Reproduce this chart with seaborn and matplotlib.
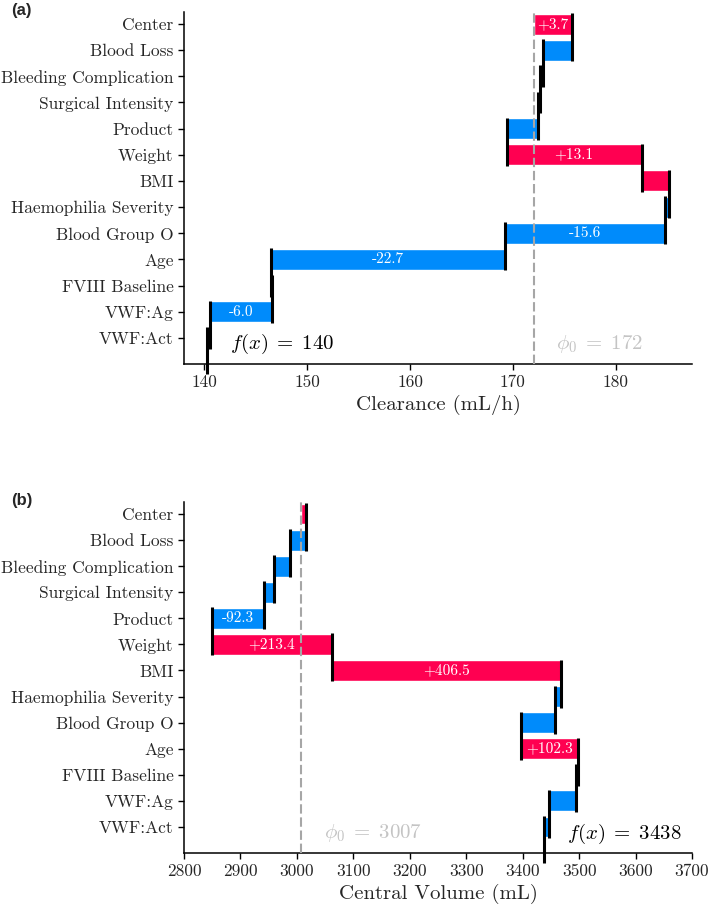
import numpy as np
import seaborn as sns
import matplotlib.pyplot as plt

# Feature contributions (top to bottom)
features = ["Center", "Blood Loss", "Bleeding Complication", "Surgical Intensity",
            "Product", "Weight", "BMI", "Haemophilia Severity", "Blood Group O",
            "Age", "FVIII Baseline", "VWF:Ag", "VWF:Act"]

cl_base = 172.0
cl_shap = [3.7, -2.8, -0.3, -0.2, -3.0, 13.1, 2.7, -0.4, -15.6, -22.7, 0.1, -6.0, -0.3]
cl_ticks = [140, 150, 160, 170, 180]

vc_base = 3007.3
vc_shap = [8.3, -27.2, -29.5, -17.7, -92.3, 213.4, 406.5, -11.5, -60.8, 102.3, -4.3, -47.8, -8.9]
vc_ticks = [2800, 2900, 3000, 3100, 3200, 3300, 3400, 3500, 3600, 3700]

RED = "#FF0051"
BLUE = "#008BFB"

sns.set_style("ticks")
plt.rcParams["font.family"] = ["cmr10", "DejaVu Serif"]
plt.rcParams["mathtext.fontset"] = "cm"
plt.rcParams["axes.formatter.use_mathtext"] = True
plt.rcParams["axes.unicode_minus"] = False


def waterfall(ax, base, shap, xlim, xticks, xlabel):
    shap = np.array(shap)
    ends = base + np.cumsum(shap)
    starts = ends - shap
    rows = np.arange(len(shap))
    colors = [RED if v > 0 else BLUE for v in shap]
    span = xlim[1] - xlim[0]

    ax.barh(rows, shap, left=starts, height=0.8, color=colors, zorder=2)
    ax.axvline(base, color="#a6a6a6", lw=1.5, ls=(0, (4.5, 1.8)), zorder=3)

    # connector lines at each running total
    for i, x in enumerate(ends):
        y1 = i + 1.42 if i < len(shap) - 1 else 13.4
        ax.plot([x, x], [i - 0.42, y1], color="black", lw=2.2,
                solid_capstyle="butt", zorder=4, clip_on=False)

    for i, v in enumerate(shap):
        if abs(v) > 0.07 * span:
            ax.text(starts[i] + v / 2, i, f"{v:+.1f}", color="white",
                    ha="center", va="center", fontsize=11, zorder=5)

    fx = ends[-1]
    ax.text(fx + 0.045 * span, 12.25, rf"$f(x)\;=\;{fx:.0f}$", fontsize=15,
            ha="left", va="center", color="black")
    ax.text(base + 0.045 * span, 12.25, rf"$\phi_0\;=\;{base:.0f}$", fontsize=15,
            ha="left", va="center", color="#c4c4c4")

    ax.set_xlim(*xlim)
    ax.set_ylim(13, -0.46)
    ax.set_yticks(rows)
    ax.set_yticklabels(features, fontsize=12.5)
    ax.set_xticks(xticks)
    ax.set_xticklabels([str(t) for t in xticks], fontsize=12.5)
    ax.set_xlabel(xlabel, fontsize=15)
    ax.tick_params(length=4, width=1, color="black")
    for s in ax.spines.values():
        s.set_linewidth(1.1)
        s.set_color("black")
    sns.despine(ax=ax)


fig = plt.figure(figsize=(7.09, 9.10), dpi=100)
ax1 = fig.add_axes([0.2595, 0.600, 0.7165, 0.3868])
ax2 = fig.add_axes([0.2595, 0.0626, 0.7165, 0.3857])

waterfall(ax1, cl_base, cl_shap, (138.03, 187.4), cl_ticks, "Clearance (mL/h)")
waterfall(ax2, vc_base, vc_shap, (2800, 3700), vc_ticks, "Central Volume (mL)")

fig.text(0.0155, 0.989, "(a)", family="Liberation Sans", weight="bold",
         fontsize=12, ha="left", va="center")
fig.text(0.0155, 0.4505, "(b)", family="Liberation Sans", weight="bold",
         fontsize=12, ha="left", va="center")

fig.savefig("out.png", dpi=100)
